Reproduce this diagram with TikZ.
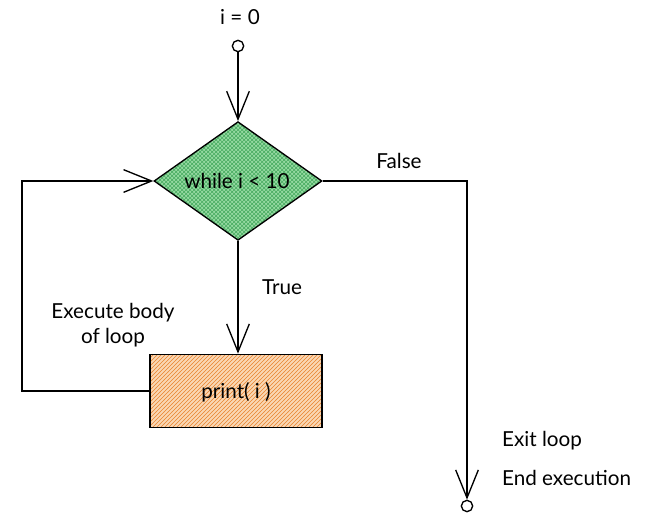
\documentclass[tikz,border=0pt]{standalone}
\usepackage{fontspec}
\setmainfont{Lato}
\usetikzlibrary{shapes.geometric,arrows.meta,patterns}
\definecolor{leaf}{RGB}{150,218,162}
\definecolor{leafdark}{RGB}{70,170,95}
\definecolor{peach}{RGB}{250,215,180}
\definecolor{rust}{RGB}{232,130,45}
\tikzset{
	lbl/.style={font=\fontsize{15.5}{19}\selectfont},
	barb/.style={-{Straight Barb[length=21pt,width=17pt]}},
	dot/.style={circle,draw,line width=1pt,minimum size=8.5pt,inner sep=0pt},
}

\begin{document}
\begin{tikzpicture}[x=0.75pt,y=-0.75pt,line width=1pt]
	\useasboundingbox (0,0) rectangle (652,516);
	%		\draw[thin,densely dashed] (0,0) grid[step=50] (652,516);
	\node[lbl] (init) at (240,17) {i = 0};
	\node[dot] (start) at (238,46) {};
	\node[diamond,draw,inner sep=0pt,minimum width=126pt,minimum height=89pt,
		preaction={fill=leaf},pattern=crosshatch,pattern color=leafdark] (cond) at (238,181) {};
	\node[lbl] (condtxt) at (237,181) {while i < 10};
	\node[draw,inner sep=0pt,minimum width=129pt,minimum height=55pt,
		preaction={fill=peach},pattern=north east lines,pattern color=rust] (body) at (236,391) {};
	\node[lbl] (bodytxt) at (236,392) {print( i )};
	\node[dot] (stop) at (467,506) {};
	\coordinate (back) at (22,181);
	
	\draw[barb] (start) -- (cond.north);
	\draw[barb] (cond.south) -- (body.north -| cond.south);
	\draw[barb] (body.west) -| (back) -- (cond.west);
	\draw[barb] (cond.east) -| (stop.north);
	
	\node[lbl] (true) at (282,287) {True};
	\node[lbl] (false) at (399,161) {False};
	\node[lbl,align=center] (exec) at (113,325) {Execute body\\of loop};
	\node[lbl,anchor=west] (exit) at (497,441) {Exit loop};
	\node[lbl,anchor=west] (end) at (497,478) {End execution};
\end{tikzpicture}
\end{document}
